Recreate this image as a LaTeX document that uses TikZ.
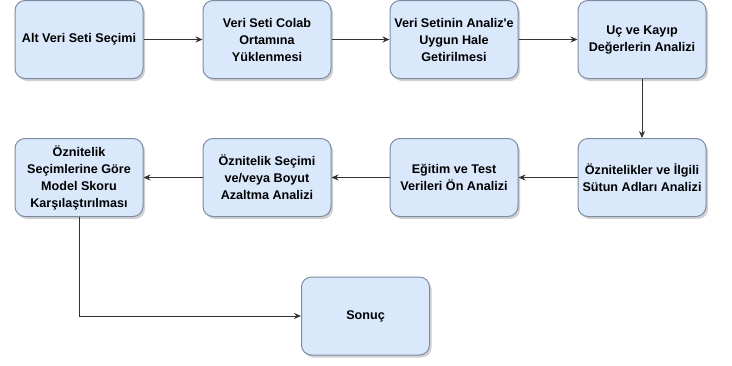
\documentclass[tikz,border=0pt]{standalone}
\usepackage{fontspec}
\setmainfont{Liberation Sans}
\usetikzlibrary{shadows,arrows.meta}
\definecolor{boxfill}{HTML}{DAE8FC}
\definecolor{boxdraw}{HTML}{7D8CA3}
\tikzset{
  stepbox/.style={draw=boxdraw, fill=boxfill, line width=1pt, rounded corners=10pt,
    minimum width=128pt, minimum height=78pt, inner sep=1pt, align=center,
    font=\fontsize{12.6}{17}\selectfont\bfseries,
    drop shadow={shadow xshift=2pt, shadow yshift=-2.5pt, fill=black!30, opacity=0.6}},
  conn/.style={draw=black!80, line width=0.8pt, -{Stealth[length=7pt,width=6pt]}}
}
\begin{document}
\begin{tikzpicture}[x=1pt,y=-1pt]
\useasboundingbox (0,0) rectangle (732,365);
\node[stepbox] (a) at (79,39.5) {Alt Veri Seti Seçimi};
\node[stepbox] (b) at (267,39.5) {Veri Seti Colab\\Ortamına\\Yüklenmesi};
\node[stepbox] (c) at (454,39.5) {Veri Setinin Analiz\textquotesingle e\\Uygun Hale\\Getirilmesi};
\node[stepbox] (d) at (642,39.5) {Uç ve Kayıp\\Değerlerin Analizi};
\node[stepbox] (e) at (642,177.5) {Öznitelikler ve İlgili\\Sütun Adları Analizi};
\node[stepbox] (f) at (454,177.5) {Eğitim ve Test\\Verileri Ön Analizi};
\node[stepbox] (g) at (267,177.5) {Öznitelik Seçimi\\ve/veya Boyut\\Azaltma Analizi};
\node[stepbox] (h) at (79,177.5) {Öznitelik\\Seçimlerine Göre\\Model Skoru\\Karşılaştırılması};
\node[stepbox] (i) at (365.5,316) {Sonuç};
\draw[conn] (a) -- (b);
\draw[conn] (b) -- (c);
\draw[conn] (c) -- (d);
\draw[conn] (d) -- (e);
\draw[conn] (e) -- (f);
\draw[conn] (f) -- (g);
\draw[conn] (g) -- (h);
\draw[conn] (h.south) -- (h.south |- i.west) -- (i.west);
\end{tikzpicture}
\end{document}
